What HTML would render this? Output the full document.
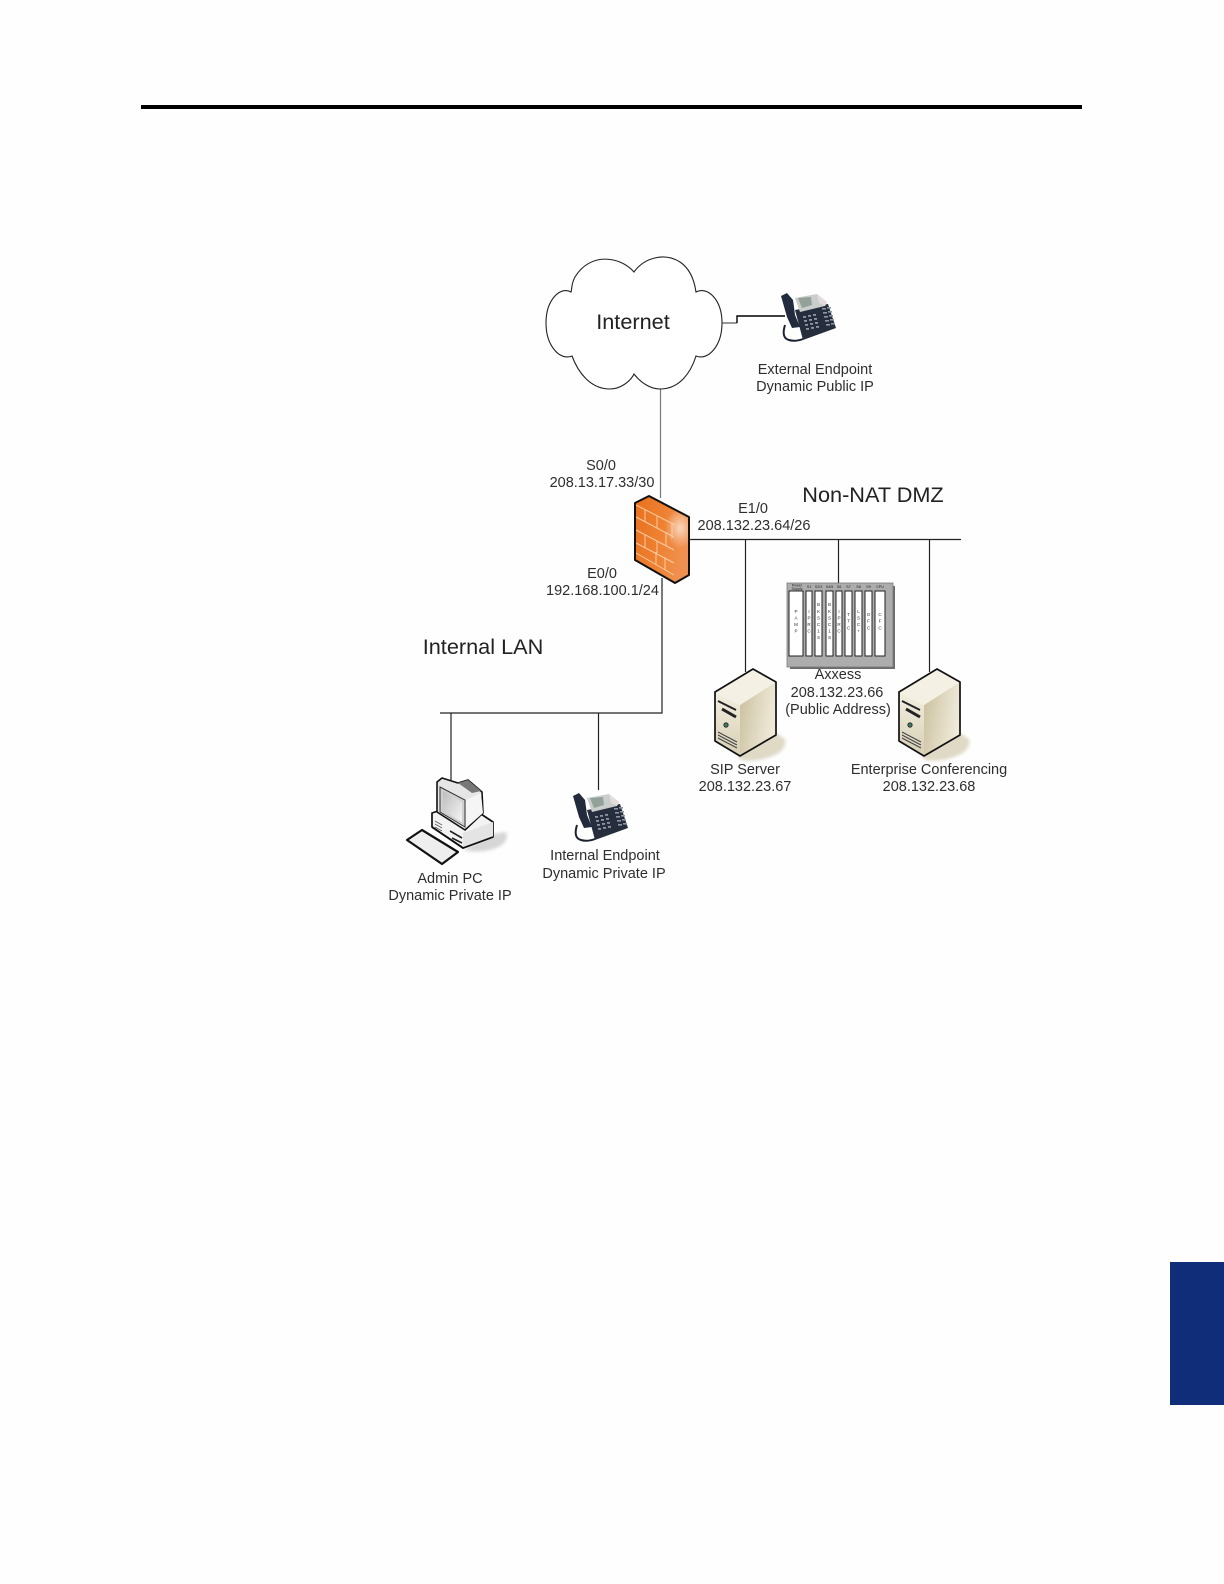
<!DOCTYPE html>
<html><head><meta charset="utf-8"><style>
html,body{margin:0;padding:0;background:#fff}
svg{display:block}
text{font-family:"Liberation Sans",sans-serif;font-size:14.5px;fill:#2e2e2e;text-anchor:middle}
.big{font-size:21.7px;fill:#222}
.v{font-size:4.6px;fill:#333;writing-mode:vertical-rl;text-orientation:upright;letter-spacing:1.6px}
.t{font-size:3.6px;fill:#222}
</style></head><body>
<svg width="1224" height="1584" viewBox="0 0 1224 1584" xmlns="http://www.w3.org/2000/svg">
<defs>
<filter id="soft" x="-10%" y="-10%" width="120%" height="120%"><feGaussianBlur stdDeviation="0.35"/></filter>
<filter id="sh" x="-30%" y="-30%" width="160%" height="160%"><feGaussianBlur stdDeviation="1.6"/></filter>
<linearGradient id="fw" x1="0" y1="0" x2="1" y2="0.3"><stop offset="0" stop-color="#e9701c"/><stop offset="0.6" stop-color="#ee8334"/><stop offset="1" stop-color="#f09050"/></linearGradient>
<radialGradient id="glow" cx="0.5" cy="0.5" r="0.5"><stop offset="0" stop-color="#fbe3d0" stop-opacity=".85"/><stop offset="1" stop-color="#fbe3d0" stop-opacity="0"/></radialGradient>
<linearGradient id="srvL" x1="0" y1="0" x2="0" y2="1"><stop offset="0" stop-color="#f3efe0"/><stop offset="1" stop-color="#d6cfb5"/></linearGradient>
<linearGradient id="srvR" x1="0" y1="0" x2="1" y2="0.3"><stop offset="0" stop-color="#c9bf9c"/><stop offset="0.5" stop-color="#ddd5bc"/><stop offset="1" stop-color="#eee9d8"/></linearGradient>
<linearGradient id="scr" x1="0" y1="0" x2="1" y2="1"><stop offset="0" stop-color="#bdbdbd"/><stop offset="1" stop-color="#f4f4f4"/></linearGradient>
<g id="phone" filter="url(#soft)">
<path d="M4 32 Q0 45 8 47 Q14 49 22 46" fill="none" stroke="#1d2430" stroke-width="2"/>
<path d="M14 17 L47 11 L55 35 L22 47 Z" fill="#252e3c"/>
<path d="M0 3 L6 0 L12 7 L13 14 L14 22 L19 34 L11 35 L6 24 Z" fill="#222c3d"/>
<path d="M14 5 L36 1 L46 9 L44 13 L19 19 Z" fill="#c9cdcb"/>
<path d="M36 1 L46 9 L44 13 L38 10 Z" fill="#e4dcdc"/>
<path d="M17 5 L30 4 L31 12 L21 15 Z" fill="#94a198"/>
<g fill="#8d97a2">
<rect x="22" y="23" width="3" height="1.8"/><rect x="27" y="22" width="3" height="1.8"/><rect x="32" y="21" width="3" height="1.8"/>
<rect x="23" y="27" width="3" height="1.8"/><rect x="28" y="26" width="3" height="1.8"/><rect x="33" y="25" width="3" height="1.8"/>
<rect x="24" y="31" width="3" height="1.8"/><rect x="29" y="30" width="3" height="1.8"/><rect x="34" y="29" width="3" height="1.8"/>
<rect x="25" y="35" width="3" height="1.8"/><rect x="30" y="34" width="3" height="1.8"/><rect x="35" y="33" width="3" height="1.8"/>
<rect x="41" y="15" width="4" height="1.6"/><rect x="46" y="14" width="4" height="1.6"/>
<rect x="42" y="19" width="4" height="1.6"/><rect x="47" y="18" width="4" height="1.6"/>
<rect x="43" y="23" width="4" height="1.6"/><rect x="48" y="22" width="4" height="1.6"/>
<rect x="44" y="27" width="4" height="1.6"/><rect x="49" y="26" width="4" height="1.6"/>
<rect x="45" y="31" width="4" height="1.6"/><rect x="50" y="30" width="4" height="1.6"/>
</g>
</g>
<g id="server">
<path d="M22 87 L61 64 L70 70 Q72 80 60 86 Q42 94 26 91 Z" fill="#dfd9c6" filter="url(#sh)"/>
<path d="M0 23 L38 0 L61 13 L25 36 Z" fill="#f4f0e3"/>
<path d="M0 23 L25 36 L25 87 L0 72 Z" fill="url(#srvL)"/>
<path d="M25 36 L61 13 L61 66 L25 87 Z" fill="url(#srvR)"/>
<path d="M0 23 L38 0 L61 13 L61 66 L25 87 L0 72 Z" fill="none" stroke="#111" stroke-width="1.7" stroke-linejoin="round"/>
<path d="M3 32 L21 41" stroke="#222" stroke-width="2"/>
<path d="M7 40 L21 48" stroke="#222" stroke-width="3"/>
<circle cx="11" cy="56" r="2.2" fill="#3f7a60" stroke="#222" stroke-width=".8"/>
<path d="M3 63 L22 73 M3 66 L22 76 M3 69 L22 79" stroke="#444" stroke-width="1"/>
</g>
</defs>
<rect width="1224" height="1584" fill="#fefefe"/>
<rect x="141" y="105" width="941" height="4" fill="#000"/>
<rect x="1170" y="1262" width="54" height="143" fill="#0f2d78"/>

<!-- connectors -->
<g fill="none" stroke-width="1.2">
<path d="M722 323 H737" stroke="#555"/>
<path d="M737 323 V316 H785" stroke="#000" stroke-width="1.4"/>
<path d="M660.5 386 V498" stroke="#777"/>
<path d="M689 539.5 H961" stroke="#222"/>
<path d="M745.5 540 V672 M838.5 540 V584 M929.5 540 V672" stroke="#222"/>
<path d="M662 578 V713 H440" stroke="#222"/>
<path d="M451 713 V780 M598.5 713 V790" stroke="#222"/>
</g>

<!-- cloud -->
<path d="M634 272 C620 256 590 252 575 277 C571 284 572 290 571 292 C560 286 546 300 546 323 C546 346 560 361 572 356 C578 372 590 389 610 389 C620 389 630 382 634 374 C640 382 650 389 660 389 C680 389 691 372 696 356 C708 361 722 346 722 323 C722 300 708 286 696 292 C695 285 692 270 680 262 C664 252 644 258 634 272 Z" fill="#fff" stroke="#222" stroke-width="1.1"/>
<text class="big" x="633" y="329">Internet</text>

<use href="#phone" x="781" y="293"/>
<use href="#phone" x="573" y="793"/>

<!-- firewall -->
<path d="M635 503 L649 496 L689 517 L689 575 L675 583 L635 560 Z" fill="url(#fw)"/>
<ellipse cx="680" cy="528" rx="15" ry="20" fill="url(#glow)"/>
<g stroke="#f9d3ae" stroke-width="1" fill="none" opacity=".9">
<path d="M636 505 L675 525 M636 517 L674 537 M636 530 L674 550 M636 543 L674 563 M636 553 L674 575"/>
<path d="M645 510 V522 M657 516 V528 M645 535 V548 M657 541 V553 M666 533 V546 M656 552 V565 M665 557 V570 M672 524 V538"/>
</g>
<path d="M635 503 L649 496 L689 517 L689 575 L675 583 L635 560 Z" fill="none" stroke="#111" stroke-width="2" stroke-linejoin="round"/>

<!-- Axxess -->
<path d="M788 586 H895 V669 H790 Z" fill="#6d6d6d"/>
<rect x="787" y="583" width="106" height="84" fill="#adadad" stroke="#777" stroke-width=".8"/>
<g fill="#fff" stroke="#222" stroke-width="1">
<rect x="789" y="591" width="14" height="65"/>
<rect x="806" y="591" width="6" height="65"/>
<rect x="815" y="591" width="7" height="65"/>
<rect x="826" y="591" width="7" height="65"/>
<rect x="836" y="591" width="6" height="65"/>
<rect x="845" y="591" width="7" height="65"/>
<rect x="855" y="591" width="7" height="65"/>
<rect x="865" y="591" width="7" height="65"/>
<rect x="875" y="591" width="10" height="65"/>
</g>
<text class="v" x="796" y="622">PAMP</text>
<text class="v" x="809" y="622">IPRC</text>
<text class="v" x="818.500" y="622">BKSC1S</text>
<text class="v" x="829.500" y="622">BKSC1S</text>
<text class="v" x="839" y="622">IPRC</text>
<text class="v" x="848.500" y="622">TTC</text>
<text class="v" x="858.500" y="622">LSC+</text>
<text class="v" x="868.500" y="622">OFC</text>
<text class="v" x="880" y="622">CFC</text>
<text class="t" x="797" y="586.500">Power</text>
<text class="t" x="797" y="590">Supply</text>
<text class="t" x="809" y="588">S1</text>
<text class="t" x="818.500" y="588">S2/3</text>
<text class="t" x="829.500" y="588">S4/5</text>
<text class="t" x="839" y="588">S6</text>
<text class="t" x="848.500" y="588">S7</text>
<text class="t" x="858.500" y="588">S8</text>
<text class="t" x="868.500" y="588">S9</text>
<text class="t" x="880" y="588">CPU</text>

<use href="#server" x="715" y="669"/>
<use href="#server" x="899" y="669"/>

<!-- PC -->
<path d="M463 850 L493 834 L506 832 Q510 842 496 848 Q480 854 463 850 Z" fill="#d6d6d6" filter="url(#sh)"/>
<path d="M432 813 L447 808 L478 812 L493 822 V837 L463 848 L432 827 Z" fill="#f3f3f3" stroke="#111" stroke-width="1.7" stroke-linejoin="round"/>
<path d="M463 833 L493 822 V837 L463 848 Z" fill="#e4e4e4"/>
<path d="M432 827 L463 848 L493 837" fill="none" stroke="#111" stroke-width="1.7"/>
<path d="M435 821 L442 825 M435 824 L442 828 M435 827 L442 831" stroke="#666" stroke-width="1"/>
<path d="M450 831 L462 838 M452 838 L462 843" stroke="#222" stroke-width="1.6"/>
<path d="M437 782 L442 778 L458 783 L468 780 L482 792 L483 813 L465 830 L437 812 Z" fill="#e6e6e6" stroke="#111" stroke-width="1.6" stroke-linejoin="round"/>
<path d="M458 783 L468 780 L481 791 L472 793 Z" fill="#777"/>
<path d="M440 787 L465 800 V827 L440 812 Z" fill="#cfcfcf" stroke="#333" stroke-width="1"/>
<path d="M443 791 L462 802 V822 L443 811 Z" fill="url(#scr)"/>
<path d="M466 800 L481 793 L483 813 L466 828 Z" fill="#f5f5f5"/>
<path d="M407 840 L422 830 L458 852 L442 864 Z" fill="#eeeeee" stroke="#111" stroke-width="2.2" stroke-linejoin="round"/>

<!-- labels -->
<text x="815" y="374">External Endpoint</text>
<text x="815" y="391">Dynamic Public IP</text>
<text x="601" y="470">S0/0</text>
<text x="602" y="487">208.13.17.33/30</text>
<text class="big" x="873" y="502">Non-NAT DMZ</text>
<text x="753" y="513">E1/0</text>
<text x="754" y="530">208.132.23.64/26</text>
<text x="602" y="578">E0/0</text>
<text x="602.500" y="595">192.168.100.1/24</text>
<text class="big" x="483" y="654">Internal LAN</text>
<text x="838" y="679">Axxess</text>
<text x="837" y="697">208.132.23.66</text>
<text x="838" y="714">(Public Address)</text>
<text x="745" y="774">SIP Server</text>
<text x="745" y="791">208.132.23.67</text>
<text x="929" y="774">Enterprise Conferencing</text>
<text x="929" y="791">208.132.23.68</text>
<text x="605" y="860">Internal Endpoint</text>
<text x="604" y="878">Dynamic Private IP</text>
<text x="450" y="883">Admin PC</text>
<text x="450" y="900">Dynamic Private IP</text>
</svg>
</body></html>
